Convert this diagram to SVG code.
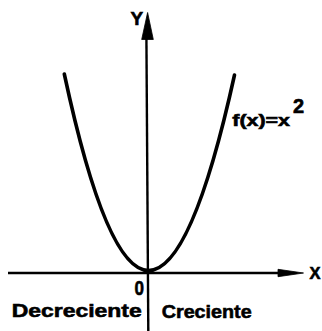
<svg xmlns="http://www.w3.org/2000/svg" width="322" height="331" viewBox="0 0 322 331">
<style>
.ax{stroke:#000;stroke-width:2.4;fill:none}
.cv{stroke:#000;stroke-width:3.6;fill:none;stroke-linecap:round}
.ah{fill:#000;stroke:#000;stroke-width:0.8;stroke-linejoin:round}
text{font-family:"Liberation Sans",Arial,sans-serif;font-weight:bold;fill:#000;stroke:#000;stroke-width:0.6}
</style>
<rect width="322" height="331" fill="#fff"/>
<g id="axes">
<line class="ax" x1="8" y1="273" x2="282" y2="273"/>
<polygon class="ah" points="278,269.3 303.5,273 278,276.7"/>
<line class="ax" x1="146.4" y1="36" x2="148.3" y2="331"/>
<polygon class="ah" points="141.7,39.5 147.6,12.5 153.3,39.5"/>
</g>
<g id="curve">
<path class="cv" d="M64.3,74 Q106.4,270.5 148.5,270.5 Q191.5,270.5 234.5,75"/>
</g>
<g id="labels">
<text x="130.5" y="25" font-size="19">Y</text>
<text x="309.5" y="279.3" font-size="16.5">X</text>
<text x="134.5" y="295" font-size="20" textLength="9.5" lengthAdjust="spacingAndGlyphs">0</text>
<text x="11.7" y="316.7" font-size="19" textLength="130" lengthAdjust="spacingAndGlyphs">Decreciente</text>
<text x="161.7" y="318.3" font-size="19" textLength="90" lengthAdjust="spacingAndGlyphs">Creciente</text>
<text font-size="16"><tspan x="232.3" y="125.5" textLength="57.7" lengthAdjust="spacingAndGlyphs">f(x)=x</tspan><tspan x="293" y="113" font-size="20">2</tspan></text>
</g>
</svg>
